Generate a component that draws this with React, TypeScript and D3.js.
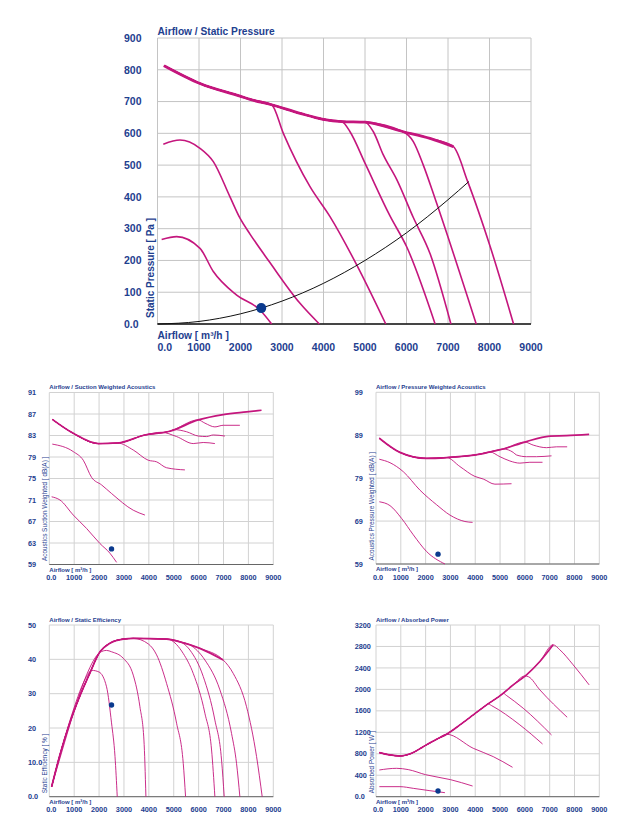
import React from 'react'
import { scaleLinear, line, curveMonotoneX } from 'd3'

type Pt = [number, number]

// shared x axis
const airflowTicks = [0, 1000, 2000, 3000, 4000, 5000, 6000, 7000, 8000, 9000]
const airflowLabels = ['0.0', '1000', '2000', '3000', '4000', '5000', '6000', '7000', '8000', '9000']

// Airflow / Static Pressure
const pressureTicks = [0, 100, 200, 300, 400, 500, 600, 700, 800, 900]
const pressureLabels = ['0.0', '100', '200', '300', '400', '500', '600', '700', '800', '900']
const pressureEnvelope: Pt[] = [[157, 813], [1025, 757], [1990, 717], [2229, 707], [2750, 690], [3434, 663], [3996, 644], [4438, 637], [5000, 635], [5924, 605], [6566, 584], [7130, 558]]
const pressureBranches: Pt[][] = [
  [[2750, 690], [3032, 600], [3675, 432], [4157, 338], [4800, 186], [5500, 0]],
  [[4438, 637], [4639, 605], [5000, 506], [5602, 340], [6004, 243], [6690, 0]],
  [[5000, 635], [5201, 605], [5441, 532], [5763, 455], [6164, 335], [6566, 222], [7070, 0]],
  [[5924, 605], [6164, 574], [6405, 500], [6700, 390], [7680, 0]],
  [[7130, 558], [7475, 448], [8018, 243], [8580, 0]],
]
const pressureLow: Pt[][] = [
  [[140, 566], [542, 579], [1024, 553], [1345, 511], [1747, 400], [1988, 333], [2229, 283], [2700, 195], [3434, 65], [3900, 0]],
  [[100, 266], [462, 275], [1024, 238], [1345, 165], [1908, 91], [2470, 44], [2750, 0]],
]
const systemCurve: Pt[] = [[0, 0], [1000, 8], [2000, 32], [2500, 50], [3000, 72], [4000, 128], [5000, 200], [6000, 287], [7000, 391], [7500, 448]]

// Airflow / Suction Weighted Acoustics
const suctionTicks = [59, 63, 67, 71, 75, 79, 83, 87, 91]
const suctionLabels = ['59', '63', '67', '71', '75', '79', '83', '87', '91']
const suctionEnvelope: Pt[] = [[120, 86.0], [964, 83.4], [1968, 81.5], [2750, 81.6], [3842, 83.1], [4846, 83.8], [5984, 85.9], [6988, 86.9], [7925, 87.4], [8527, 87.7]]
const suctionBranches: Pt[][] = [
  [[2750, 81.6], [3373, 80.3], [3976, 78.4], [4311, 78.1], [4712, 77.0], [5448, 76.6]],
  [[4500, 83.6], [5114, 82.8], [5783, 81.5], [6185, 81.7], [6653, 81.5]],
  [[5000, 84.1], [5515, 83.7], [5984, 82.9], [6319, 82.8], [6586, 83.1], [7055, 82.9]],
  [[5984, 85.9], [6252, 85.3], [6653, 84.6], [6988, 84.9], [7657, 84.9]],
]
const suctionLow: Pt[][] = [
  [[120, 81.4], [964, 80.0], [1365, 78.4], [1700, 75.2], [2102, 73.8], [2503, 72.2], [3373, 69.1], [3842, 68.2]],
  [[94, 71.6], [428, 71.0], [964, 68.2], [1499, 65.7], [2035, 62.9], [2436, 61.1], [2704, 59.4]],
]

// Airflow / Pressure Weighted Acoustics
const acousticTicks = [59, 69, 79, 89, 99]
const acousticLabels = ['59', '69', '79', '89', '99']
const acousticEnvelope: Pt[] = [[134, 88.3], [966, 85.0], [2040, 83.6], [2846, 83.8], [4188, 84.6], [4590, 85.1], [5128, 85.8], [6000, 87.4], [7007, 88.8], [7678, 88.9], [8590, 89.2]]
const acousticBranches: Pt[][] = [
  [[2846, 83.8], [3383, 81.7], [3987, 79.4], [4322, 78.8], [4792, 77.6], [5463, 77.7]],
  [[4590, 85.1], [4993, 84.0], [5396, 83.0], [5799, 82.5], [6201, 82.7], [6711, 82.7]],
  [[5128, 85.8], [5530, 85.0], [5664, 84.4], [6067, 84.0], [6470, 84.0], [7074, 84.2]],
  [[6000, 87.4], [6336, 86.7], [6872, 86.1], [7275, 86.3], [7705, 86.3]],
]
const acousticLow: Pt[][] = [
  [[134, 83.4], [564, 82.6], [1101, 80.5], [1772, 76.2], [2443, 72.8], [2980, 70.4], [3584, 68.9], [3893, 68.7]],
  [[134, 73.5], [564, 72.6], [1034, 69.6], [1503, 65.8], [2040, 61.9], [2778, 59]],
]

// Airflow / Static Efficiency
const efficiencyTicks = [0, 10, 20, 30, 40, 50]
const efficiencyLabels = ['0.0', '10.0', '20', '30', '40', '50']
const efficiencyEnvelope: Pt[] = [[94, 2.9], [400, 11.5], [800, 21], [1200, 28.8], [1600, 35.5], [2035, 42.2], [2437, 44.7], [2972, 45.9], [3373, 46.1], [4712, 45.9], [5248, 45.1], [6051, 43.2], [6988, 39.8]]
const efficiencyBranches: Pt[][] = [
  [[3373, 46.1], [3976, 44.5], [4311, 41.3], [4712, 33.0], [5114, 21.4], [5382, 9.7], [5475, 0]],
  [[4850, 45.7], [5382, 41.7], [5783, 35.9], [6252, 24.3], [6520, 13.6], [6653, 0]],
  [[5114, 45.5], [5650, 42.7], [6185, 35], [6653, 22.3], [6921, 10.7], [7028, 0]],
  [[5650, 44.2], [6252, 39.8], [6855, 31.1], [7323, 18.4], [7523, 9.7], [7657, 0]],
  [[6988, 39.8], [7390, 35.9], [7925, 26.2], [8327, 11.7], [8554, 0]],
]
const efficiencyLow: Pt[][] = [
  [[94, 2.9], [500, 13], [1000, 25], [1500, 35.5], [2035, 42], [2300, 42.6], [2503, 42.2], [2972, 40.3], [3373, 35.4], [3641, 26.2], [3802, 16.5], [3882, 0]],
  [[94, 2.9], [500, 14], [1000, 26], [1300, 32], [1500, 35], [1700, 36.8], [2000, 36.3], [2300, 32], [2500, 21.5], [2640, 11.7], [2730, 0]],
]

// Airflow / Absorbed Power
const powerTicks = [0, 400, 800, 1200, 1600, 2000, 2400, 2800, 3200]
const powerLabels = ['0.0', '400', '800', '1200', '1600', '2000', '2400', '2800', '3200']
const powerEnvelope: Pt[] = [[134, 821], [564, 778], [966, 759], [1436, 809], [1906, 933], [2443, 1070], [2846, 1164], [3383, 1338], [3919, 1524], [4456, 1711], [4993, 1879], [5530, 2084], [6067, 2271], [6604, 2520], [7141, 2831]]
const powerBranches: Pt[][] = [
  [[2846, 1164], [3919, 902], [4725, 747], [5503, 548]],
  [[4523, 1730], [4650, 1700], [5799, 1338], [6711, 983]],
  [[5128, 1930], [5250, 1890], [5933, 1649], [7074, 1151]],
  [[6000, 2250], [6150, 2235], [6604, 1991], [7705, 1481]],
  [[7141, 2831], [7409, 2738], [7946, 2458], [8590, 2084]],
]
const powerLow: Pt[][] = [
  [[134, 498], [832, 529], [1300, 505], [2000, 410], [3000, 318], [3893, 199]],
  [[134, 187], [966, 187], [1503, 156], [2174, 112], [2778, 75]],
]

// operating point
const opAirflow = 2500
const opPressure = 50
const opSuction = 61.9
const opAcoustic = 61.3
const opEfficiency = 26.7
const opPower = 106

const MAGENTA = '#c4167d'
const BLUE = '#1e408f'
const DOT = '#0b3a8e'
const FONT = '"Liberation Sans", Arial, Helvetica, sans-serif'

type PanelProps = {
  left: number; right: number; top: number; bottom: number
  yDomain: [number, number]; yTicks: number[]; yLabels: string[]
  title: string; yTitle: string
  envelope: Pt[]; branches: Pt[][]; low: Pt[][]
  dot: Pt; system?: Pt[]
  big?: boolean
}

const Panel = (p: PanelProps) => {
  const x = scaleLinear().domain([0, 9000]).range([p.left, p.right])
  const y = scaleLinear().domain(p.yDomain).range([p.bottom, p.top])
  const path = line<Pt>().x(d => x(d[0])).y(d => y(d[1])).curve(curveMonotoneX)
  const big = !!p.big
  const tickSize = big ? 10.5 : 7.3
  const titleSize = big ? 10.2 : 6
  const lw = big ? 1.6 : 0.9
  const envW = big ? 2.8 : 1.7
  const yLabelX = p.left - (big ? 33.5 : 21.3)
  const grid = big ? '#c4c4c4' : '#d2d2d2'
  // each speed curve follows the common envelope until it branches off
  const curves = p.branches.map(b => p.envelope.filter(d => d[0] < b[0][0]).concat(b))
  return (
    <g fontFamily={FONT} fill={BLUE}>
      {airflowTicks.map(t => (
        <line key={'vx' + t} x1={x(t)} x2={x(t)} y1={p.top} y2={p.bottom} stroke={grid} strokeWidth={1} />
      ))}
      {p.yTicks.map(t => (
        <line key={'hy' + t} x1={p.left} x2={p.right} y1={y(t)} y2={y(t)} stroke={grid} strokeWidth={1} />
      ))}
      <line x1={p.left} x2={p.right} y1={p.bottom} y2={p.bottom} stroke={big ? '#111' : '#666'} strokeWidth={big ? 1.5 : 1} />
      {p.yTicks.map((t, i) => (
        <text key={'yl' + t} x={yLabelX} y={y(t)} dy="0.36em" fontSize={tickSize} fontWeight="bold">{p.yLabels[i]}</text>
      ))}
      {airflowTicks.map((t, i) => (
        <text key={'xl' + t} x={i === 0 && big ? x(t) : x(t) + (i === 0 ? 2 : 0)} y={p.bottom + (big ? 27 : 15.5)}
          textAnchor={i === 0 && big ? 'start' : 'middle'} fontSize={tickSize} fontWeight="bold">{airflowLabels[i]}</text>
      ))}
      <text x={p.left} y={p.top - (big ? 3 : 3.3)} fontSize={titleSize} fontWeight="bold">{p.title}</text>
      <text x={p.left} y={p.bottom + (big ? 15 : 7)} fontSize={titleSize} fontWeight="bold">Airflow [ m³/h ]</text>
      <text transform={`translate(${p.left - (big ? 3.5 : 2.3)},${p.bottom - (big ? 6 : 3.5)}) rotate(-90)`}
        fontSize={big ? 10 : 6.4} fontWeight={big ? 'bold' : 'normal'}>{p.yTitle}</text>
      {p.low.map((c, i) => (
        <path key={'lo' + i} d={path(c) || ''} fill="none" stroke={MAGENTA} strokeWidth={lw} />
      ))}
      {curves.map((c, i) => (
        <path key={'cv' + i} d={path(c) || ''} fill="none" stroke={MAGENTA} strokeWidth={lw} />
      ))}
      <path d={path(p.envelope) || ''} fill="none" stroke={MAGENTA} strokeWidth={envW} strokeLinejoin="round" />
      {p.system && (
        <path d={path(p.system) || ''} fill="none" stroke="#111" strokeWidth={1} />
      )}
      <circle cx={x(p.dot[0])} cy={y(p.dot[1])} r={big ? 5 : 2.7} fill={DOT} />
    </g>
  )
}

const App = () => {
  return (
    <svg width={632} height={825} style={{ position: 'absolute', left: 0, top: 0, background: '#fff' }}>
      <Panel big left={157.5} right={531} top={38} bottom={324}
        yDomain={[0, 900]} yTicks={pressureTicks} yLabels={pressureLabels}
        title="Airflow / Static Pressure" yTitle="Static Pressure [ Pa ]"
        envelope={pressureEnvelope} branches={pressureBranches} low={pressureLow}
        dot={[opAirflow, opPressure]} system={systemCurve} />
      <Panel left={49.3} right={273.3} top={392.5} bottom={564.5}
        yDomain={[59, 91]} yTicks={suctionTicks} yLabels={suctionLabels}
        title="Airflow / Suction Weighted Acoustics" yTitle="Acoustics Suction Weighted [ dB(A) ]"
        envelope={suctionEnvelope} branches={suctionBranches} low={suctionLow}
        dot={[opAirflow, opSuction]} />
      <Panel left={376} right={599.3} top={392.3} bottom={564}
        yDomain={[59, 99]} yTicks={acousticTicks} yLabels={acousticLabels}
        title="Airflow / Pressure Weighted Acoustics" yTitle="Acoustics Pressure Weighted [ dB(A) ]"
        envelope={acousticEnvelope} branches={acousticBranches} low={acousticLow}
        dot={[opAirflow, opAcoustic]} />
      <Panel left={49.3} right={273.3} top={625} bottom={796.7}
        yDomain={[0, 50]} yTicks={efficiencyTicks} yLabels={efficiencyLabels}
        title="Airflow / Static Efficiency" yTitle="Static Efficiency [ % ]"
        envelope={efficiencyEnvelope} branches={efficiencyBranches} low={efficiencyLow}
        dot={[opAirflow, opEfficiency]} />
      <Panel left={376} right={599.3} top={625} bottom={796.7}
        yDomain={[0, 3200]} yTicks={powerTicks} yLabels={powerLabels}
        title="Airflow / Absorbed Power" yTitle="Absorbed Power [ W ]"
        envelope={powerEnvelope} branches={powerBranches} low={powerLow}
        dot={[opAirflow, opPower]} />
    </svg>
  )
}

export default App
